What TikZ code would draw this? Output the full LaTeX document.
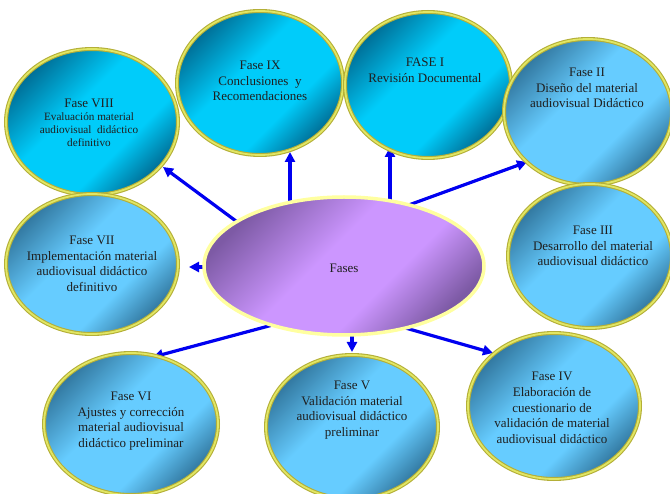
\documentclass[tikz,border=0pt]{standalone}
\usepackage{fontspec}
\setmainfont{Liberation Serif}
\usetikzlibrary{shapes.geometric,arrows.meta,backgrounds}
\definecolor{cyanmid}{RGB}{0,204,250}
\definecolor{cyandark}{RGB}{0,110,150}
\definecolor{bluemid}{RGB}{102,204,255}
\definecolor{bluedark}{RGB}{50,120,160}
\definecolor{purpmid}{RGB}{204,150,255}
\definecolor{purpdark}{RGB}{125,90,165}
\definecolor{ringout}{RGB}{180,175,55}
\definecolor{ringin}{RGB}{225,230,100}
\definecolor{cborder}{RGB}{255,255,160}
\definecolor{arrowblue}{RGB}{0,0,240}
\pgfdeclareverticalshading{cyanshade}{100bp}{color(0bp)=(cyandark); color(25bp)=(cyandark); color(38bp)=(cyanmid); color(57bp)=(cyanmid); color(75bp)=(cyandark); color(100bp)=(cyandark)}
\pgfdeclareverticalshading{blueshade}{100bp}{color(0bp)=(bluedark); color(25bp)=(bluedark); color(38bp)=(bluemid); color(57bp)=(bluemid); color(75bp)=(bluedark); color(100bp)=(bluedark)}
\pgfdeclareverticalshading{purpshade}{100bp}{color(0bp)=(purpdark); color(25bp)=(purpdark); color(40bp)=(purpmid); color(55bp)=(purpmid); color(75bp)=(purpdark); color(100bp)=(purpdark)}
\tikzset{
  phase/.style={ellipse, inner sep=0pt, draw=ringout, double=ringin, double distance=1.8pt, line width=1.1pt},
  cyanph/.style={phase, shading=cyanshade, shading angle=45},
  blueph/.style={phase, shading=blueshade, shading angle=45},
  central/.style={ellipse, inner sep=0pt, draw=cborder, line width=3.5pt, shading=purpshade, shading angle=45},
  txt/.style={align=center, font=\fontsize{13}{15.6}\selectfont, text=black!88},
  stxt/.style={align=center, font=\fontsize{11.2}{13}\selectfont, text=black!88},
  conn/.style={draw=arrowblue, line width=3.2pt, -{Triangle[length=10pt,width=10pt]}}
}
\begin{document}
\begin{tikzpicture}[x=1pt,y=-1pt]
\useasboundingbox (0,0) rectangle (670,494);
\node[cyanph, minimum width=172pt, minimum height=146pt] (e8) at (92,122) {};
\node[cyanph, minimum width=166pt, minimum height=144pt] (e9) at (260,83) {};
\node[cyanph, minimum width=166pt, minimum height=146pt] (e1) at (428,85) {};
\node[blueph, minimum width=168pt, minimum height=146pt] (e2) at (588,112) {};
\node[blueph, minimum width=164pt, minimum height=144pt] (e3) at (590,256) {};
\node[blueph, minimum width=172pt, minimum height=140pt] (e7) at (92,264) {};
\node[blueph, minimum width=174pt, minimum height=142pt] (e6) at (131,424) {};
\node[blueph, minimum width=172pt, minimum height=144pt] (e5) at (352,427) {};
\node[blueph, minimum width=172pt, minimum height=146pt] (e4) at (554,406) {};
\node[central, minimum width=280pt, minimum height=138pt] (c) at (344,266) {};

\node[stxt] (t8) at (89,123) {{\fontsize{13}{13}\selectfont Fase VIII}\\Evaluación material\\audiovisual~ didáctico\\definitivo};
\node[txt] (t9) at (260,81) {Fase IX\\Conclusiones~ y\\Recomendaciones};
\node[txt] (t1) at (425,70) {FASE I\\Revisión Documental};
\node[txt] (t2) at (587,88) {Fase II\\Diseño del material\\audiovisual Didáctico};
\node[txt] (t3) at (593,246) {Fase III\\Desarrollo del material\\audiovisual didáctico};
\node[txt] (t7) at (92,264) {Fase VII\\Implementación material\\audiovisual didáctico\\definitivo};
\node[txt] (t6) at (131,421) {Fase VI\\Ajustes y corrección\\material audiovisual\\didáctico preliminar};
\node[txt] (t5) at (352,410) {Fase V\\Validación material\\audiovisual didáctico\\preliminar};
\node[txt] (t4) at (552,408) {Fase IV\\Elaboración de\\cuestionario de\\validación de material\\audiovisual didáctico};
\node[txt] (tc) at (344,268) {Fases};

\coordinate (s8) at (240,224); \coordinate (a8) at (163,167);
\coordinate (s9) at (290,215); \coordinate (a9) at (290,152);
\coordinate (s1) at (390,215); \coordinate (a1) at (390,147);
\coordinate (s2) at (395,210); \coordinate (a2) at (527,162);
\coordinate (s7) at (215,267); \coordinate (a7) at (189,267);
\coordinate (s6) at (280,323); \coordinate (a6) at (153,357);
\coordinate (s5) at (352,325); \coordinate (a5) at (352,352);
\coordinate (s4) at (395,325); \coordinate (a4) at (493,353);
\begin{scope}[on background layer]
\draw[conn] (s8) -- (a8);
\draw[conn] (s9) -- (a9);
\draw[conn] (s1) -- (a1);
\draw[conn] (s2) -- (a2);
\draw[conn] (s7) -- (a7);
\draw[conn] (s6) -- (a6);
\draw[conn] (s5) -- (a5);
\draw[conn] (s4) -- (a4);
\end{scope}
\end{tikzpicture}
\end{document}
